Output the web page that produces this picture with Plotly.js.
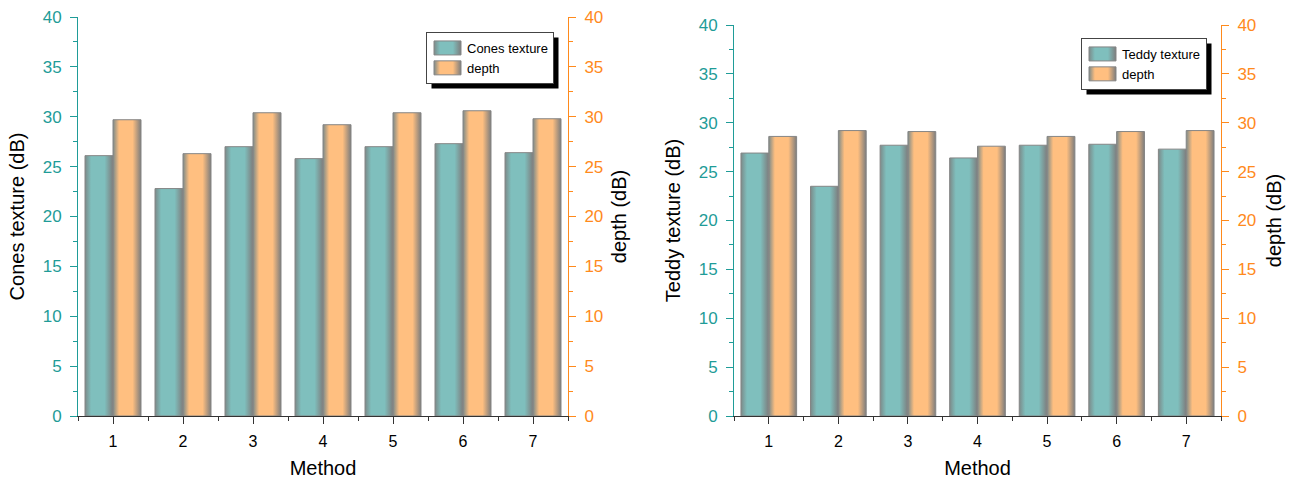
<!DOCTYPE html>
<html>
<head>
<meta charset="utf-8">
<script src="https://cdn.plot.ly/plotly-3.0.1.min.js"></script>
<style>
  html, body { margin: 0; padding: 0; background: #fff; }
  #chart { width: 1297px; height: 479px; }
</style>
</head>
<body>
<div id="chart"></div>
<script>
// ---- data ----
const methods = [1, 2, 3, 4, 5, 6, 7];
const conesTexture = [26.1, 22.8, 27.0, 25.8, 27.0, 27.3, 26.4];
const conesDepth   = [29.7, 26.3, 30.4, 29.2, 30.4, 30.6, 29.8];
const teddyTexture = [26.9, 23.5, 27.7, 26.4, 27.7, 27.8, 27.3];
const teddyDepth   = [28.6, 29.2, 29.1, 27.6, 28.6, 29.1, 29.2];
const xTickLabels = ['1', '2', '3', '4', '5', '6', '7'];

// ---- style ----
const TEAL = '#7fbfbd';
const ORANGE = '#ffbf80';
const TEAL_AX = '#1f9c98';
const ORANGE_AX = '#ff8a1c';
const FONT = 'Liberation Sans, Arial, sans-serif';
const W = 1297, H = 479;

const domL = [78 / W, 568 / W];
const domR = [734 / W, 1221 / W];
const yDomL = [(H - 416) / H, (H - 17) / H];
const yDomR = [(H - 416) / H, (H - 25) / H];

function barTrace(name, y, color, xa, ya, offset, legend) {
  return {
    type: 'bar', name: name, x: methods, y: y, xaxis: xa, yaxis: ya,
    width: 0.4, offset: offset, legend: legend,
    marker: { color: color, line: { color: '#858585', width: 1 } },
    hoverinfo: 'x+y'
  };
}

const data = [
  barTrace('Cones texture', conesTexture, TEAL, 'x', 'y', -0.4, 'legend'),
  barTrace('depth', conesDepth, ORANGE, 'x', 'y2', 0, 'legend'),
  barTrace('Teddy texture', teddyTexture, TEAL, 'x2', 'y3', -0.4, 'legend2'),
  barTrace('depth', teddyDepth, ORANGE, 'x2', 'y4', 0, 'legend2')
];

const minorX = [0.5, 1.5, 2.5, 3.5, 4.5, 5.5, 6.5, 7.5];

function xAxis(domain, anchor) {
  return {
    domain: domain, anchor: anchor, range: [0.5, 7.5], type: 'linear',
    tickvals: methods, ticktext: xTickLabels,
    ticks: 'outside', ticklen: 7, tickwidth: 1, tickcolor: '#333',
    ticklabelstandoff: 4,
    minor: { tickvals: minorX, ticks: 'outside', ticklen: 4, tickcolor: '#333' },
    showline: true, linecolor: '#333', linewidth: 1, showgrid: false, zeroline: false,
    tickfont: { family: FONT, size: 16, color: '#000' },
    title: { text: 'Method', font: { family: FONT, size: 20, color: '#000' }, standoff: 12 },
    fixedrange: true
  };
}
function xTopAxis(overlay, anchor) {
  return {
    overlaying: overlay, anchor: anchor, side: 'top', range: [0.5, 7.5], type: 'linear',
    tickvals: methods, showticklabels: false,
    ticks: 'inside', ticklen: 7, tickcolor: '#333',
    minor: { tickvals: minorX, ticks: 'inside', ticklen: 4, tickcolor: '#333' },
    showline: true, linecolor: '#333', linewidth: 1, showgrid: false, zeroline: false,
    fixedrange: true
  };
}
function yAxis(domain, anchor, side, color, title, standoff, overlay) {
  const a = {
    domain: domain, anchor: anchor, side: side, range: [0, 40],
    dtick: 5, tick0: 0, ticks: 'outside', ticklen: 7, tickcolor: color,
    ticklabelstandoff: 5,
    minor: { dtick: 2.5, ticks: 'outside', ticklen: 4, tickcolor: color },
    showline: true, linecolor: color, linewidth: 1, showgrid: false, zeroline: false,
    tickfont: { family: FONT, size: 17, color: color },
    title: { text: title, font: { family: FONT, size: 20, color: '#000' }, standoff: standoff },
    fixedrange: true
  };
  if (overlay) a.overlaying = overlay;
  return a;
}
function legendBox(x, y) {
  return {
    x: x, y: y, xanchor: 'left', yanchor: 'top', xref: 'paper', yref: 'paper',
    bgcolor: '#fff', bordercolor: '#444', borderwidth: 1,
    font: { family: FONT, size: 13, color: '#000' },
    tracegroupgap: 0, itemwidth: 30, traceorder: 'normal'
  };
}

const layout = {
  width: W, height: H,
  margin: { l: 0, r: 0, t: 0, b: 0 },
  paper_bgcolor: '#fff', plot_bgcolor: 'rgba(0,0,0,0)',
  font: { family: FONT },
  barmode: 'overlay',
  showlegend: true,
  xaxis: xAxis(domL, 'y'),
  xaxis2: xAxis(domR, 'y3'),
  xaxis3: xTopAxis('x', 'y'),
  xaxis4: xTopAxis('x2', 'y3'),
  yaxis: yAxis(yDomL, 'x', 'left', TEAL_AX, 'Cones texture (dB)', 12),
  yaxis2: yAxis(yDomL, 'x', 'right', ORANGE_AX, 'depth (dB)', 9, 'y'),
  yaxis3: yAxis(yDomR, 'x2', 'left', TEAL_AX, 'Teddy texture (dB)', 12),
  yaxis4: yAxis(yDomR, 'x2', 'right', ORANGE_AX, 'depth (dB)', 11, 'y3'),
  legend: legendBox(426 / W, 1 - 32 / H),
  legend2: legendBox(1081 / W, 1 - 38 / H)
};

Plotly.newPlot('chart', data, layout, { displayModeBar: false, staticPlot: true }).then(function (gd) {
  // legend drop shadows, sized from the rendered legend boxes
  const shapes = [];
  const svgRect = gd.querySelector('.main-svg').getBoundingClientRect();
  ['legend', 'legend2'].forEach(function (id) {
    const bg = gd.querySelector('g.' + id + ' rect.bg');
    if (!bg) return;
    const r = bg.getBoundingClientRect();
    const x0 = r.left - svgRect.left + 5, x1 = r.right - svgRect.left + 5;
    const y0 = r.top - svgRect.top + 5, y1 = r.bottom - svgRect.top + 5;
    shapes.push({
      type: 'rect', xref: 'paper', yref: 'paper', layer: 'above',
      x0: x0 / W, x1: x1 / W, y0: 1 - y1 / H, y1: 1 - y0 / H,
      fillcolor: '#000', line: { width: 0 }
    });
  });
  return Plotly.relayout(gd, { shapes: shapes });
}).then(function () {
  const gd = document.getElementById('chart');
  // cylinder-like shading on bars
  const svg = gd.querySelector('.main-svg');
  const ns = 'http://www.w3.org/2000/svg';
  let defs = svg.querySelector('defs');
  function grad(id, base) {
    const g = document.createElementNS(ns, 'linearGradient');
    g.setAttribute('id', id);
    g.setAttribute('x1', '0'); g.setAttribute('x2', '1'); g.setAttribute('y1', '0'); g.setAttribute('y2', '0');
    [['0', '#7c8a89'], ['0.22', base], ['0.7', base], ['1', '#7d7d7d']].forEach(function (s) {
      const st = document.createElementNS(ns, 'stop');
      st.setAttribute('offset', s[0]); st.setAttribute('stop-color', s[1]);
      g.appendChild(st);
    });
    defs.appendChild(g);
  }
  grad('gTeal', TEAL);
  grad('gOrange', ORANGE);
  gd.querySelectorAll('.barlayer .trace').forEach(function (tr, i) {
    const id = (i % 2 === 0) ? 'gTeal' : 'gOrange';
    tr.querySelectorAll('path').forEach(function (p) { p.style.fill = 'url(#' + id + ')'; });
  });
  gd.querySelectorAll('.legendpoints path').forEach(function (p) {
    const isTeal = p.style.fill && p.style.fill.indexOf('127') >= 0;
    p.setAttribute('d', 'M-13,7H14V-7H-13Z');
    p.style.fill = isTeal ? 'url(#gTeal)' : 'url(#gOrange)';
  });
});
</script>
</body>
</html>
